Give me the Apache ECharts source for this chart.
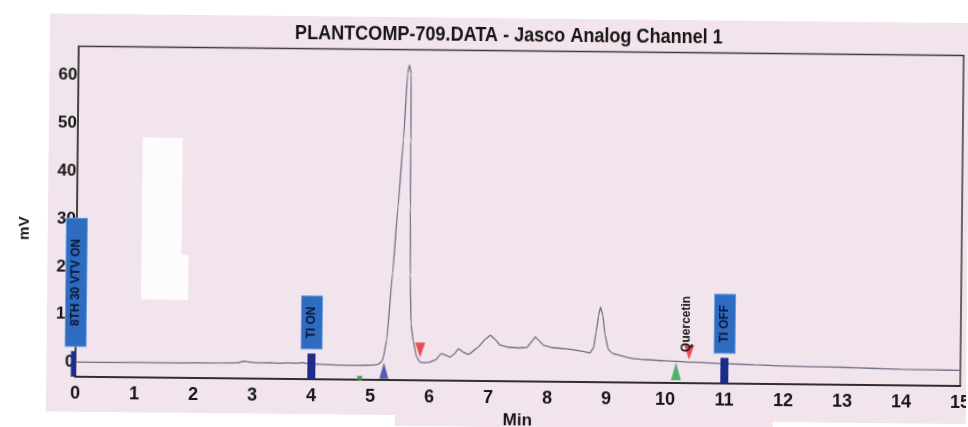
<!DOCTYPE html>
<html>
<head>
<meta charset="utf-8">
<script src="https://cdn.jsdelivr.net/npm/echarts@6/dist/echarts.min.js"></script>
<style>
  html, body { margin: 0; padding: 0; background: #ffffff; overflow: hidden; width: 968px; height: 427px; }
  #wrap { position: relative; width: 968px; height: 427px; overflow: hidden; }
  #chart { position: absolute; left: 0; top: 0; width: 968px; height: 427px; transform: rotate(0.6deg); transform-origin: 484px 213.5px; }
</style>
</head>
<body>
<div id="wrap"><div id="chart"></div></div>
<script>
// ---- data ----
const titleText = 'PLANTCOMP-709.DATA - Jasco Analog Channel 1';
const xTicks = [0, 1, 2, 3, 4, 5, 6, 7, 8, 9, 10, 11, 12, 13, 14, 15];
const yTickLabels = [0, 10, 20, 30, 40, 50, 60];

// detector trace: time (min) and signal (mV)
const traceTime = [
  0, 0.5, 1.0, 1.5, 2.0, 2.5, 2.75, 2.85, 2.95, 3.1, 3.3, 3.45, 3.6, 3.75, 3.85, 3.95,
  4.2, 4.5, 4.8, 5.0, 5.1, 5.15, 5.2, 5.22, 5.27, 5.36, 5.44, 5.52, 5.58, 5.61,
  5.64, 5.645, 5.65, 5.66, 5.68, 5.72, 5.78, 5.84, 5.9, 6.0, 6.1, 6.2, 6.3, 6.35,
  6.42, 6.49, 6.58, 6.66, 6.8, 6.95, 7.03, 7.1, 7.2, 7.35, 7.5, 7.65, 7.72, 7.79,
  7.86, 7.93, 8.1, 8.3, 8.44, 8.6, 8.72, 8.78, 8.82, 8.86, 8.89, 8.93, 8.97, 9.03,
  9.11, 9.2, 9.45, 9.7, 10.0, 10.2, 10.5, 11.0, 11.5, 12.0, 12.5, 13.0, 13.5, 14.0, 14.5, 15.0
];
const traceMv = [
  0.05, 0.05, 0.1, 0.1, 0.15, 0.2, 0.25, 0.6, 0.45, 0.3, 0.35, 0.25, 0.35, 0.3, 0.45, 0.2,
  0.1, 0.0, 0.0, 0.05, 0.15, 0.4, 1.0, 1.8, 5.3, 19.3, 33.2, 47.1, 61.1, 62.8,
  61.0, 47.0, 33.0, 19.0, 8.8, 5.3, 1.9, 0.8, 0.7, 0.8, 1.3, 2.6, 2.2, 1.9,
  2.6, 3.7, 2.9, 2.5, 3.8, 5.8, 6.6, 5.8, 4.5, 4.1, 4.0, 4.1, 5.2, 6.3,
  5.5, 4.6, 4.1, 3.9, 3.7, 3.4, 3.1, 4.2, 7.5, 11.0, 12.7, 11.0, 7.0, 3.8,
  3.0, 2.7, 2.0, 1.8, 1.6, 1.5, 1.35, 1.15, 1.0, 0.8, 0.7, 0.65, 0.5, 0.35, 0.3, 0.27
];

// event tags (time in min)
const tagTimes = [0, 4, 11];
const tagLabels = ['8TH 30 VTV ON', 'TI ON', 'TI OFF'];

// integration markers
const markTimes = [4.82, 5.23, 5.84, 10.18, 10.40];
const markMv = [-2.7, -1.05, 3.3, -0.55, 3.4];
const markKinds = ['tick', 'start', 'end', 'startG', 'end'];

// peak names
const peakNames = ['Quercetin'];
const peakNameTimes = [10.35];
const peakNameMv = [3.5];

// ---- build chart ----
const traceData = traceTime.map((t, i) => [t, traceMv[i]]);
const markStyles = {
  tick:   { symbol: 'rect', size: [5, 5], rotate: 0, color: '#2f8f45' },
  start:  { symbol: 'triangle', size: [9, 16], rotate: 0, color: '#2a3c9c' },
  startG: { symbol: 'triangle', size: [10, 18], rotate: 0, color: '#2ea24e' },
  end:    { symbol: 'triangle', size: [10, 15], rotate: 180, color: '#e3262b' }
};
const markData = markTimes.map((t, i) => {
  const s = markStyles[markKinds[i]];
  return { value: [t, markMv[i]], symbol: s.symbol, symbolSize: s.size, symbolRotate: s.rotate, itemStyle: { color: s.color } };
});

const SANS = '"Liberation Sans", Arial, sans-serif';

const chart = echarts.init(document.getElementById('chart'), null, { renderer: 'canvas' });

function renderTag(params, api) {
  const t = api.value(0);
  const label = tagLabels[params.dataIndex];
  const pBox = api.coord([t, 3.4]);
  const pAxis = api.coord([t, -3]);
  const first = params.dataIndex === 0;
  const barW = first ? 5 : 8;
  const barX = first ? pBox[0] - 2 : pBox[0];
  const padLen = first ? 20 : 10;
  return {
    type: 'group',
    children: [
      { type: 'rect', shape: { x: barX - barW / 2, y: pBox[1] + 5, width: barW, height: pAxis[1] - pBox[1] - 5 },
        style: { fill: '#1f2b88' } },
      { type: 'text', x: pBox[0], y: pBox[1], rotation: Math.PI / 2,
        style: { text: label, font: 'bold 12px ' + SANS, fill: '#0c1430', align: 'left', verticalAlign: 'middle',
                 backgroundColor: '#2e6cc2', padding: [4, padLen, 4, padLen], borderColor: '#6a9ee0', borderWidth: 1 } }
    ]
  };
}

function renderPeakName(params, api) {
  const p = api.coord([api.value(0), api.value(1)]);
  return {
    type: 'text', x: p[0], y: p[1], rotation: Math.PI / 2,
    style: { text: peakNames[params.dataIndex], font: 'bold 12px ' + SANS, fill: '#1a1414', align: 'left', verticalAlign: 'middle' }
  };
}

const option = {
  animation: false,
  backgroundColor: 'transparent',
  graphic: {
    elements: [
      { type: 'rect', z: -100, shape: { x: 48, y: 18, width: 940, height: 430 }, style: { fill: '#f2e4ec' } },
      { type: 'rect', z: -99, shape: { x: 40, y: 416, width: 357, height: 30 }, style: { fill: '#ffffff' } },
      { type: 'rect', z: -99, shape: { x: 775, y: 419, width: 220, height: 30 }, style: { fill: '#ffffff' } },
      { type: 'rect', z: -99, shape: { x: 142, y: 141, width: 40, height: 162 }, style: { fill: '#fdfbfc' } },
      { type: 'rect', z: -99, shape: { x: 182, y: 258, width: 7, height: 45 }, style: { fill: '#fdfbfc' } },
      { type: 'text', x: 507, y: 35, scaleX: 0.86, z: 10,
        style: { text: titleText, font: 'bold 21px ' + SANS, fill: '#151515', align: 'center', verticalAlign: 'middle' } },
      { type: 'text', x: 25, y: 233, rotation: Math.PI / 2,
        style: { text: 'mV', font: 'bold 15px ' + SANS, fill: '#151515', align: 'center', verticalAlign: 'middle' } }
    ]
  },
  grid: {
    left: 77, right: 6, top: 50.6, bottom: 46,
    outerBoundsMode: 'none', containLabel: false,
    show: true, borderColor: '#3a3a3a', borderWidth: 1.5, backgroundColor: 'transparent'
  },
  xAxis: {
    type: 'value', min: 0, max: 15, interval: 1,
    name: 'Min', nameLocation: 'middle', nameGap: 27,
    nameTextStyle: { fontFamily: SANS, fontWeight: 'bold', fontSize: 17, color: '#151515' },
    axisLine: { show: true, onZero: false, lineStyle: { color: '#2e2e2e', width: 2 } },
    axisTick: { show: false },
    splitLine: { show: false },
    axisLabel: {
      margin: 8, fontFamily: SANS, fontWeight: 'bold', fontSize: 18, color: '#161616',
      formatter: v => (xTicks.indexOf(v) >= 0 ? String(v) : '')
    }
  },
  yAxis: {
    type: 'value', min: -3, max: 66, interval: 1,
    axisLine: { show: true, onZero: false, lineStyle: { color: '#3a3a3a', width: 1.5 } },
    axisTick: { show: false },
    splitLine: { show: false },
    axisLabel: {
      interval: 0, margin: 1, fontFamily: SANS, fontWeight: 'bold', fontSize: 17, color: '#161616',
      formatter: v => (yTickLabels.indexOf(v) >= 0 ? String(v) : '')
    }
  },
  series: [
    {
      name: 'trace', type: 'line', data: traceData, showSymbol: false, symbol: 'none',
      smooth: 0.12, smoothMonotone: 'x',
      lineStyle: { color: '#6e6e88', width: 1.3 }, z: 3, clip: false
    },
    {
      name: 'markers', type: 'scatter', data: markData, z: 5, clip: false
    },
    {
      name: 'tags', type: 'custom', data: tagTimes.map(t => [t]), renderItem: renderTag, z: 6, clip: false
    },
    {
      name: 'peakNames', type: 'custom', data: peakNameTimes.map((t, i) => [t, peakNameMv[i]]), renderItem: renderPeakName, z: 6, clip: false
    }
  ]
};
chart.setOption(option);
</script>
</body>
</html>
